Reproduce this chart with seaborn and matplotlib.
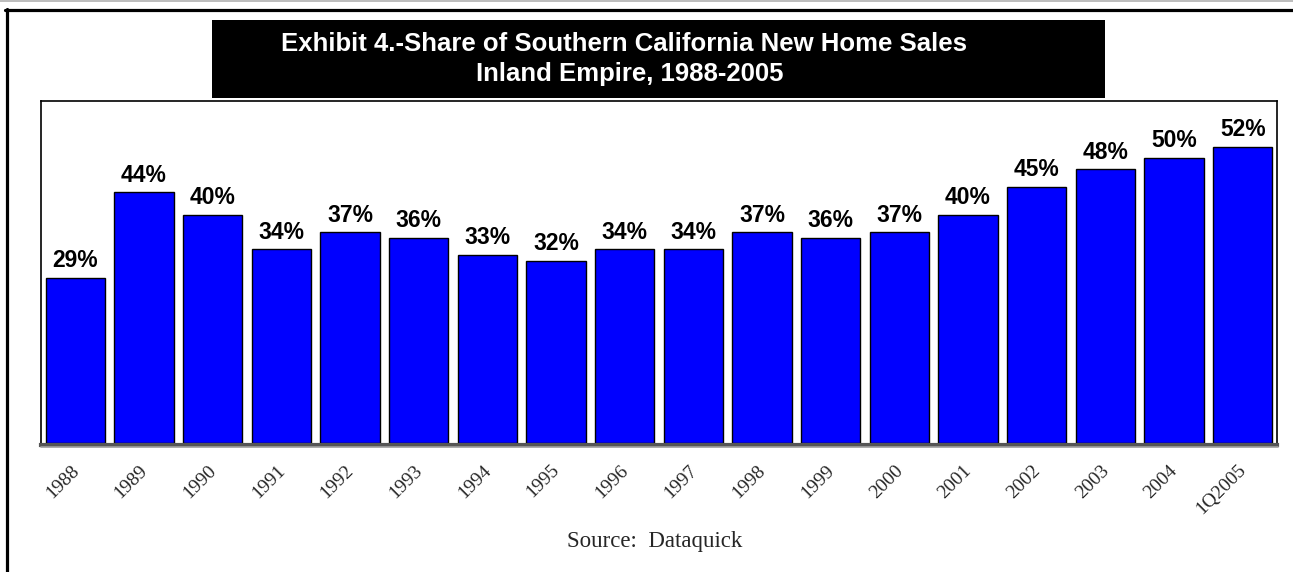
import matplotlib
matplotlib.use("Agg")
import matplotlib.pyplot as plt
import matplotlib.transforms as mtransforms
from matplotlib.patches import Rectangle
from matplotlib.lines import Line2D
import seaborn as sns
import pandas as pd

# Inland Empire share of Southern California new home sales (%)
periods = ["1988", "1989", "1990", "1991", "1992", "1993", "1994", "1995", "1996",
           "1997", "1998", "1999", "2000", "2001", "2002", "2003", "2004", "1Q2005"]
shares = [29, 44, 40, 34, 37, 36, 33, 32, 34, 34, 37, 36, 37, 40, 45, 48, 50, 52]

title_lines = ["Exhibit 4.-Share of Southern California New Home Sales",
               "Inland Empire, 1988-2005"]
source_note = "Source:  Dataquick"

df = pd.DataFrame({"period": periods, "share": shares})

sns.set_style("white")
plt.rcParams["font.family"] = ["Liberation Sans", "DejaVu Sans"]

W, H, DPI = 1293, 572, 100
fig = plt.figure(figsize=(W / DPI, H / DPI), dpi=DPI)
fig.patch.set_facecolor("white")

# pixel helpers (origin top-left)
def fx(px):
    return px / W

def fy(py):
    return 1 - py / H

ax = fig.add_axes([fx(41), fy(445), fx(1277) - fx(41), fy(101) - fy(445)])

sns.barplot(data=df, x="period", y="share", order=periods, color="#0000FF",
            saturation=1, width=0.86, edgecolor="black", linewidth=1.0, ax=ax)

ax.set_xlim(-0.5, len(periods) - 0.5)
ax.set_ylim(-0.35, 60.0)
ax.set_xlabel("")
ax.set_ylabel("")
ax.set_yticks([])

for c in ax.containers:
    ax.bar_label(c, labels=[f"{v}%" for v in shares], padding=4,
                 fontsize=16.5, fontweight="bold", color="black")

for side in ["top", "left", "right"]:
    ax.spines[side].set_color("black")
    ax.spines[side].set_linewidth(1.2)
ax.spines["bottom"].set_color("#555555")
ax.spines["bottom"].set_linewidth(3)

ax.tick_params(axis="x", length=0, pad=12)
offset = mtransforms.ScaledTranslation(7 / DPI, 0, fig.dpi_scale_trans)
for lab in ax.get_xticklabels():
    lab.set_rotation(45)
    lab.set_ha("right")
    lab.set_fontfamily(["Liberation Serif", "DejaVu Serif"])
    lab.set_fontsize(14)
    lab.set_transform(lab.get_transform() + offset)

# light gray rule under the floor
fig.add_artist(Line2D([fx(41), fx(1278)], [fy(447), fy(447)], color="#a0a0a0", lw=1.2))

# outer frame lines
fig.add_artist(Line2D([0, 1], [fy(0.8), fy(0.8)], color="#b0b0b0", lw=1.2))
fig.add_artist(Line2D([fx(5), 1], [fy(9.5), fy(9.5)], color="black", lw=2.3))
fig.add_artist(Line2D([fx(6.5), fx(6.5)], [fy(9), 0], color="black", lw=2.3))

# title banner
fig.add_artist(Rectangle((fx(212), fy(98)), fx(1105) - fx(212), fy(20) - fy(98),
                         transform=fig.transFigure, facecolor="black", edgecolor="none"))
fig.text(fx(624), fy(44), title_lines[0], color="white", fontsize=18.5,
         fontweight="bold", ha="center", va="center")
fig.text(fx(630), fy(74), title_lines[1], color="white", fontsize=18.5,
         fontweight="bold", ha="center", va="center")

fig.text(fx(655), fy(541), source_note, fontsize=16.5, ha="center", va="center",
         family=["Liberation Serif", "DejaVu Serif"])

fig.savefig("out.png", dpi=DPI)
